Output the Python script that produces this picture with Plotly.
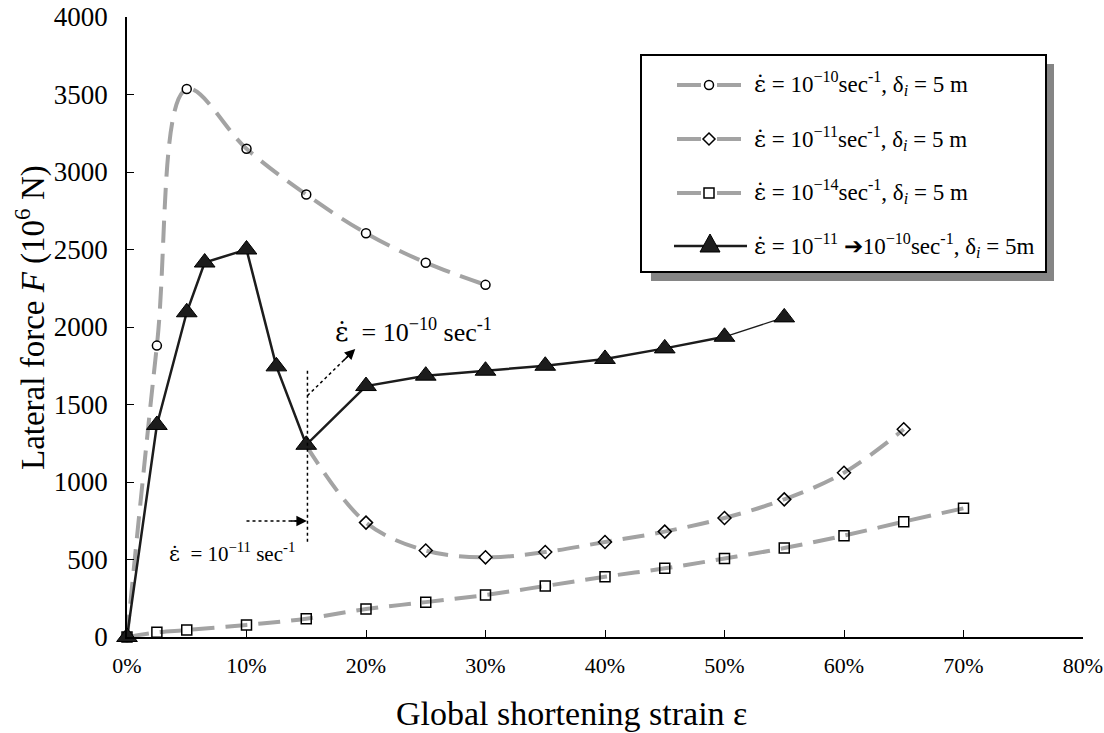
import plotly.graph_objects as go

# ---- data ----
x1 = [0, 2.5, 5, 10, 15, 20, 25, 30]
y1 = [0, 1880, 3535, 3150, 2855, 2605, 2415, 2272]

x2 = [15, 20, 25, 30, 35, 40, 45, 50, 55, 60, 65]
y2 = [1235, 738, 558, 514, 548, 613, 680, 768, 888, 1060, 1340]

x3 = [0, 2.5, 5, 10, 15, 20, 25, 30, 35, 40, 45, 50, 55, 60, 65, 70]
y3 = [0, 30, 45, 78, 118, 180, 225, 271, 329, 389, 443, 506, 574, 654, 744, 830]

x4 = [0, 2.5, 5, 6.5, 10, 12.5, 15, 20, 25, 30, 35, 40, 45, 50]
y4 = [0, 1368, 2095, 2416, 2500, 1746, 1240, 1619, 1686, 1718, 1750, 1794, 1862, 1937]
x4_tail = [50, 55]
y4_tail = [1937, 2062]

xticks = [0, 10, 20, 30, 40, 50, 60, 70, 80]
yticks = [0, 500, 1000, 1500, 2000, 2500, 3000, 3500, 4000]

EPS = '<span style="font-family:DejaVu Serif">ε̇</span>'
names = [
    EPS + " = 10<sup>−10</sup>sec<sup>-1</sup>, δ<sub><i>i</i></sub> = 5 m",
    EPS + " = 10<sup>−11</sup>sec<sup>-1</sup>, δ<sub><i>i</i></sub> = 5 m",
    EPS + " = 10<sup>−14</sup>sec<sup>-1</sup>, δ<sub><i>i</i></sub> = 5 m",
    EPS + " = 10<sup>−11</sup> ➔10<sup>−10</sup>sec<sup>-1</sup>, δ<sub><i>i</i></sub> = 5m",
]
x_title = "Global shortening strain ε"
y_title = "Lateral force <i>F</i> (10<sup>6</sup> N)"

FONT = "Liberation Serif, Times New Roman, serif"
GRAY = "#a3a3a3"
BLACK = "#1c1c1c"
DASH = "22px,11px"

fig = go.Figure()

# series 1
fig.add_trace(go.Scatter(
    x=x1, y=y1, mode="lines+markers",
    line=dict(color=GRAY, width=4, dash=DASH, shape="spline", smoothing=1.0),
    marker=dict(symbol="circle-open", size=9, color="black", line=dict(width=1.5)),
    cliponaxis=False))

# series 2 (line starts at the switch point, markers from the next point)
fig.add_trace(go.Scatter(
    x=x2, y=y2, mode="lines",
    line=dict(color=GRAY, width=4, dash=DASH, shape="spline", smoothing=1.0),
    cliponaxis=False))
fig.add_trace(go.Scatter(
    x=x2[1:], y=y2[1:], mode="markers",
    marker=dict(symbol="diamond-open", size=10, color="black", line=dict(width=1.5)),
    cliponaxis=False))

# series 3
fig.add_trace(go.Scatter(
    x=x3, y=y3, mode="lines+markers",
    line=dict(color=GRAY, width=4, dash=DASH, shape="spline", smoothing=1.0),
    marker=dict(symbol="square-open", size=10, color="black", line=dict(width=1.5)),
    cliponaxis=False))

# series 4
fig.add_trace(go.Scatter(
    x=x4_tail, y=y4_tail, mode="lines",
    line=dict(color=BLACK, width=1.3), cliponaxis=False))
fig.add_trace(go.Scatter(
    x=x4_tail[1:], y=y4_tail[1:], mode="markers",
    marker=dict(symbol="triangle-up", size=18, color=BLACK, line=dict(color="black", width=1)),
    cliponaxis=False))
fig.add_trace(go.Scatter(
    x=x4, y=y4, mode="lines+markers",
    line=dict(color=BLACK, width=2.5),
    marker=dict(symbol="triangle-up", size=18, color=BLACK, line=dict(color="black", width=1)),
    cliponaxis=False))

# ---- helpers for paper coordinates from pixel positions (legend / titles) ----
L, R, T, B = 127, 21, 17, 96
PW, PH = 1104 - L - R, 733 - T - B


def px(x):
    return (x - L) / PW


def py(y):
    return (733 - B - y) / PH


shapes = []
annotations = []

# vertical dotted line at switch point
shapes.append(dict(type="line", xref="x", yref="y", x0=15.1, x1=15.1, y0=615, y1=1735,
                   line=dict(color="black", width=1.5, dash="dot")))
# lower horizontal dotted arrow
shapes.append(dict(type="line", xref="x", yref="y", x0=10.0, x1=14.2, y0=748, y1=748,
                   line=dict(color="black", width=1.5, dash="dot")))
annotations.append(dict(x=15.05, y=748, xref="x", yref="y", text="", showarrow=True,
                        axref="x", ayref="y", ax=13.6, ay=748,
                        arrowhead=2, arrowsize=1.4, arrowwidth=1.5, arrowcolor="black"))
# upper diagonal dotted arrow
shapes.append(dict(type="line", xref="x", yref="y", x0=15.1, x1=18.6, y0=1557, y1=1820,
                   line=dict(color="black", width=1.5, dash="dot")))
annotations.append(dict(x=19.1, y=1858, xref="x", yref="y", text="", showarrow=True,
                        axref="x", ayref="y", ax=18.0, ay=1775,
                        arrowhead=2, arrowsize=1.4, arrowwidth=1.5, arrowcolor="black"))

annotations.append(dict(x=24.0, y=1975, xref="x", yref="y", showarrow=False,
                        text=EPS + "  = 10<sup>−10</sup> sec<sup>-1</sup>",
                        font=dict(family=FONT, size=26, color="black")))
annotations.append(dict(x=8.8, y=545, xref="x", yref="y", showarrow=False,
                        text=EPS + "  = 10<sup>−11</sup> sec<sup>-1</sup>",
                        font=dict(family=FONT, size=21, color="black")))

# axis titles
annotations.append(dict(x=px(571), y=py(713), xref="paper", yref="paper", showarrow=False,
                        xanchor="center", yanchor="middle", text=x_title,
                        font=dict(family=FONT, size=34, color="black")))
annotations.append(dict(x=px(30), y=py(318), xref="paper", yref="paper", showarrow=False,
                        xanchor="center", yanchor="middle", text=y_title, textangle=-90,
                        font=dict(family=FONT, size=33, color="black")))

# ---- legend (box with drop shadow) ----
shapes.append(dict(type="rect", xref="paper", yref="paper",
                   x0=px(651), x1=px(1054), y0=py(281), y1=py(64),
                   fillcolor="#858585", line=dict(width=0)))
shapes.append(dict(type="rect", xref="paper", yref="paper",
                   x0=px(641), x1=px(1046), y0=py(272), y1=py(55),
                   fillcolor="white", line=dict(color="black", width=2)))

rows = [85, 139, 193, 246]
for i, ry in enumerate(rows[:3]):
    for a, b in [(677, 701), (717, 741)]:
        shapes.append(dict(type="line", xref="paper", yref="paper",
                           x0=px(a), x1=px(b), y0=py(ry), y1=py(ry),
                           line=dict(color=GRAY, width=4)))
    cx = 709
    if i == 0:
        shapes.append(dict(type="circle", xref="paper", yref="paper",
                           x0=px(cx - 4.5), x1=px(cx + 4.5), y0=py(ry + 4.5), y1=py(ry - 4.5),
                           line=dict(color="black", width=1.5)))
    elif i == 1:
        d = 6
        path = (f"M{px(cx)},{py(ry - d)} L{px(cx + d)},{py(ry)} "
                f"L{px(cx)},{py(ry + d)} L{px(cx - d)},{py(ry)} Z")
        shapes.append(dict(type="path", xref="paper", yref="paper", path=path,
                           line=dict(color="black", width=1.5)))
    else:
        shapes.append(dict(type="rect", xref="paper", yref="paper",
                           x0=px(cx - 5), x1=px(cx + 5), y0=py(ry + 5), y1=py(ry - 5),
                           line=dict(color="black", width=1.5)))
ry = rows[3]
shapes.append(dict(type="line", xref="paper", yref="paper",
                   x0=px(674), x1=px(747), y0=py(ry), y1=py(ry),
                   line=dict(color=BLACK, width=2.5)))
tri = (f"M{px(710)},{py(ry - 12)} L{px(720)},{py(ry + 6)} L{px(700)},{py(ry + 6)} Z")
shapes.append(dict(type="path", xref="paper", yref="paper", path=tri,
                   fillcolor=BLACK, line=dict(color="black", width=1)))

for i, ry in enumerate(rows):
    annotations.append(dict(x=px(752), y=py(ry - 1), xref="paper", yref="paper",
                            xanchor="left", yanchor="middle", showarrow=False,
                            text=names[i], font=dict(family=FONT, size=23, color="black")))

fig.update_layout(
    width=1104, height=733,
    margin=dict(l=L, r=R, t=T, b=B),
    paper_bgcolor="white", plot_bgcolor="white",
    font=dict(family=FONT, size=18, color="black"),
    showlegend=False,
    shapes=shapes,
    annotations=annotations,
    xaxis=dict(range=[0, 80], tickvals=xticks, ticktext=[f"{v}%" for v in xticks],
               showgrid=False, zeroline=False, showline=True, linecolor="black", linewidth=1.5,
               ticks="inside", ticklen=7, tickwidth=1.2, tickcolor="black",
               tickfont=dict(family=FONT, size=22), ticklabelstandoff=8,
               ticklabeloverflow="allow", automargin=False),
    yaxis=dict(range=[0, 4000], tickvals=yticks,
               showgrid=False, zeroline=False, showline=True, linecolor="black", linewidth=1.5,
               ticks="inside", ticklen=7, tickwidth=1.2, tickcolor="black",
               tickfont=dict(family=FONT, size=27), ticklabelstandoff=12,
               ticklabeloverflow="allow", automargin=False),
)

fig.write_html("out.html")
